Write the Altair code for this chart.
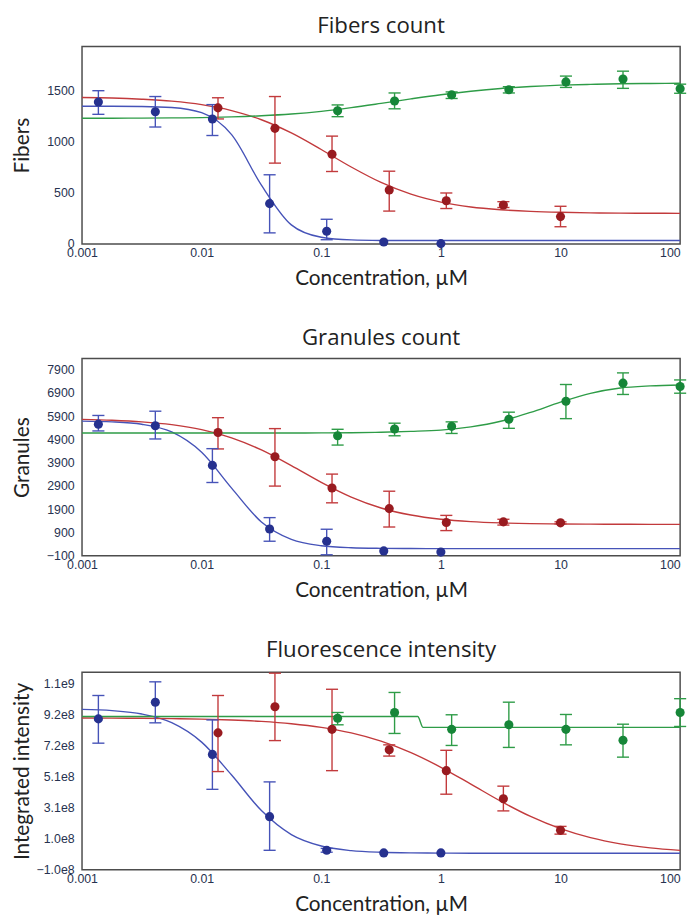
import altair as alt
import pandas as pd

# ---------------- data ----------------
SERIES = ["Compound A", "Compound B", "Compound C"]  # blue, red, green

CONC_A = [0.00137, 0.0041, 0.0123, 0.037, 0.111, 0.333, 1.0]
CONC_B = [0.0137, 0.041, 0.123, 0.37, 1.11, 3.33, 10.0]
CONC_C = [0.137, 0.41, 1.23, 3.7, 11.1, 33.3, 100.0]

# fitted-curve sample positions (µM)
GRID = [0.001, 0.00178, 0.00316, 0.00562, 0.01, 0.0178, 0.0316, 0.0562,
        0.1, 0.178, 0.316, 0.562, 1, 1.78, 3.16, 5.62, 10, 17.8, 31.6, 56.2, 100]

X_TICKS = [0.001, 0.01, 0.1, 1, 10, 100]

# ---- Fibers count ----
FIB_A = [1387, 1292, 1222, 394, 124, 19, 3]
FIB_A_LO = [1267, 1143, 1060, 108, 41, None, None]
FIB_A_HI = [1498, 1441, 1362, 676, 241, None, None]
FIB_B = [1330, 1130, 876, 527, 422, 381, 267]
FIB_B_LO = [1222, 790, 708, 321, 346, 356, 168]
FIB_B_HI = [1429, 1441, 1054, 711, 498, 413, 368]
FIB_C = [1302, 1397, 1457, 1508, 1584, 1613, 1517]
FIB_C_LO = [1244, 1321, 1422, 1476, 1530, 1521, 1473]
FIB_C_HI = [1359, 1476, 1486, 1537, 1641, 1689, 1562]
FIB_FIT_A = [1346, 1346, 1344, 1334, 1283, 1068, 574, 186, 65, 39, 34, 33,
             33, 33, 33, 33, 33, 33, 33, 33, 33]
FIB_FIT_B = [1432, 1427, 1415, 1396, 1362, 1304, 1214, 1085, 923, 752, 601, 486,
             409, 361, 334, 318, 309, 304, 301, 300, 299]
FIB_FIT_C = [1229, 1229, 1230, 1232, 1235, 1242, 1253, 1270, 1296, 1332, 1374, 1418,
             1459, 1493, 1520, 1539, 1552, 1560, 1566, 1569, 1571]

# ---- Granules count ----
GRA_A = [5555, 5488, 3784, 1054, 526, 110, 60]
GRA_A_LO = [5264, 4919, 3049, 526, -56, None, None]
GRA_A_HI = [5929, 6112, 4503, 1540, 1041, None, None]
GRA_B = [5198, 4158, 2812, 1927, 1332, 1357, 1316]
GRA_B_LO = [4491, 2895, 2176, 1137, 983, 1220, 1270]
GRA_B_HI = [5834, 5364, 3410, 2675, 1636, 1469, 1360]
GRA_C = [5056, 5347, 5459, 5763, 6540, 7317, 7176]
GRA_C_LO = [4657, 5056, 5156, 5376, 5792, 6831, 6885]
GRA_C_HI = [5335, 5597, 5654, 6070, 7259, 7758, 7455]
GRA_FIT_A = [5687, 5655, 5550, 5219, 4347, 2807, 1354, 605, 332, 246, 221, 213,
             210, 210, 210, 210, 210, 210, 210, 210, 210]
GRA_FIT_B = [5759, 5722, 5655, 5533, 5320, 4968, 4446, 3774, 3055, 2423, 1954, 1651,
             1471, 1369, 1314, 1284, 1268, 1260, 1255, 1252, 1251]
GRA_FIT_C = [5175, 5175, 5175, 5175, 5175, 5175, 5175, 5175, 5179, 5186, 5210, 5245,
             5300, 5440, 5680, 6060, 6500, 6880, 7110, 7200, 7240]

# ---- Fluorescence intensity ----
FLU_A = [8.93e8, 1.003e9, 6.59e8, 2.49e8, 2.75e7, 1.03e7, 1.03e7]
FLU_A_LO = [7.33e8, 8.67e8, 4.29e8, 2.75e7, 1.5e7, None, None]
FLU_A_HI = [1.047e9, 1.137e9, 8.86e8, 4.78e8, 4.0e7, None, None]
FLU_B = [8.01e8, 9.73e8, 8.24e8, 6.90e8, 5.52e8, 3.67e8, 1.59e8]
FLU_B_LO = [5.46e8, 7.50e8, 5.52e8, 6.48e8, 3.97e8, 2.87e8, 1.34e8]
FLU_B_HI = [1.047e9, 1.194e9, 1.088e9, 7.22e8, 6.86e8, 4.50e8, 1.85e8]
FLU_C = [8.97e8, 9.35e8, 8.24e8, 8.54e8, 8.24e8, 7.52e8, 9.35e8]
FLU_C_LO = [8.54e8, 7.97e8, 7.18e8, 7.05e8, 7.22e8, 6.41e8, 8.43e8]
FLU_C_HI = [9.35e8, 1.067e9, 9.20e8, 1.003e9, 9.22e8, 8.58e8, 1.026e9]
FLU_FIT_A = [9.555e8, 9.474e8, 9.25e8, 8.68e8, 7.40e8, 5.23e8, 2.89e8, 1.31e8,
             5.57e7, 2.55e7, 1.43e7, 1.02e7, 9e6, 8e6, 8e6, 8e6, 8e6, 8e6, 8e6, 8e6, 8e6]
FLU_FIT_B = [8.99e8, 8.98e8, 8.968e8, 8.947e8, 8.912e8, 8.855e8, 8.762e8, 8.612e8,
             8.374e8, 8.007e8, 7.463e8, 6.707e8, 5.742e8, 4.635e8, 3.511e8, 2.504e8,
             1.697e8, 1.105e8, 7.0e7, 4.35e7, 2.67e7]
FLU_FIT_C_X = [0.001, 0.64, 0.71, 100]
FLU_FIT_C = [9.09e8, 9.09e8, 8.37e8, 8.37e8]

FIB_TICKS = [0, 500, 1000, 1500]
GRA_TICKS = [-100, 900, 1900, 2900, 3900, 4900, 5900, 6900, 7900]
FLU_TICKS = [-1.0e8, 1.04e8, 3.08e8, 5.12e8, 7.16e8, 9.20e8, 1.124e9]

# ---------------- styling ----------------
LINE_COLORS = ["#4653b8", "#c23a3c", "#2e9c47"]
DOT_COLORS = ["#26318f", "#991b20", "#168638"]
PANEL_TITLE_FONT = "Open Sans"
AXIS_TITLE_FONT = "Lato"
LABEL_FONT = "Liberation Sans, Arial, sans-serif"
LABEL_COLOR = "#27324f"
TEXT_COLOR = "#222222"
PW, PH = 606, 200


def points_frame(concs, vals, los, his):
    rows = []
    for s, c, v, lo, hi in zip(SERIES, concs, vals, los, his):
        for i in range(len(c)):
            rows.append({"series": s, "conc": c[i], "value": v[i],
                         "lo": lo[i], "hi": hi[i]})
    return pd.DataFrame(rows)


def fit_frame(xs, ys):
    rows = []
    for s, x, y in zip(SERIES, xs, ys):
        for i in range(len(x)):
            rows.append({"series": s, "conc": x[i], "value": y[i]})
    return pd.DataFrame(rows)


def panel(title, ytitle, ydomain, yticks, pts, fits, label_expr=None, fmt=None):
    xscale = alt.Scale(type="log", domain=[0.001, 100], nice=False)
    xaxis = alt.Axis(values=X_TICKS, format="~g", title="Concentration, µM",
                     labelFlush=False, labelOverlap=False, labelPadding=3,
                     titlePadding=9,
                     labelAlign={"condition": {"test": "datum.value >= 100",
                                               "value": "right"},
                                 "value": "center"})
    ykw = dict(title=ytitle, values=yticks, labelOverlap=False, labelPadding=8,
               titleX=-50)
    if label_expr:
        ykw["labelExpr"] = label_expr
    if fmt:
        ykw["format"] = fmt
    yaxis = alt.Axis(**ykw)
    yscale = alt.Scale(domain=ydomain, nice=False, zero=False)

    def X():
        return alt.X("conc:Q", scale=xscale, axis=xaxis)

    def Y(f):
        return alt.Y(f"{f}:Q", scale=yscale, axis=yaxis)

    stroke = alt.Stroke("series:N", scale=alt.Scale(domain=SERIES, range=LINE_COLORS),
                        legend=None)
    fill = alt.Fill("series:N", scale=alt.Scale(domain=SERIES, range=DOT_COLORS),
                    legend=None)

    lines = alt.Chart(fits).mark_line(interpolate="monotone", strokeWidth=1.4,
                                      clip=True).encode(x=X(), y=Y("value"),
                                                        stroke=stroke)
    rules = alt.Chart(pts).mark_rule(strokeWidth=1.4).encode(
        x=X(), y=Y("lo"), y2="hi:Q", stroke=stroke)
    caps_lo = alt.Chart(pts).mark_point(shape="M-1,0L1,0", size=150, strokeWidth=1.4,
                                        filled=False, opacity=1).encode(
        x=X(), y=Y("lo"), stroke=stroke)
    caps_hi = alt.Chart(pts).mark_point(shape="M-1,0L1,0", size=150, strokeWidth=1.4,
                                        filled=False, opacity=1).encode(
        x=X(), y=Y("hi"), stroke=stroke)
    dots = alt.Chart(pts).mark_circle(size=85, opacity=1).encode(
        x=X(), y=Y("value"), fill=fill)

    return alt.layer(lines, rules, caps_lo, caps_hi, dots).properties(
        width=PW, height=PH,
        title=alt.TitleParams(title, font=PANEL_TITLE_FONT, fontSize=22.5,
                              fontWeight="normal", color=TEXT_COLOR, offset=9,
                              anchor="middle"))


p1 = panel("Fibers count", "Fibers", [0, 1930], FIB_TICKS,
           points_frame([CONC_A, CONC_B, CONC_C], [FIB_A, FIB_B, FIB_C],
                        [FIB_A_LO, FIB_B_LO, FIB_C_LO], [FIB_A_HI, FIB_B_HI, FIB_C_HI]),
           fit_frame([GRID, GRID, GRID], [FIB_FIT_A, FIB_FIT_B, FIB_FIT_C]),
           fmt="d")
p2 = panel("Granules count", "Granules", [-100, 8380], GRA_TICKS,
           points_frame([CONC_A, CONC_B, CONC_C], [GRA_A, GRA_B, GRA_C],
                        [GRA_A_LO, GRA_B_LO, GRA_C_LO], [GRA_A_HI, GRA_B_HI, GRA_C_HI]),
           fit_frame([GRID, GRID, GRID], [GRA_FIT_A, GRA_FIT_B, GRA_FIT_C]),
           fmt="d")
p3 = panel("Fluorescence intensity", "Integrated intensity", [-1.0e8, 1.2e9], FLU_TICKS,
           points_frame([CONC_A, CONC_B, CONC_C], [FLU_A, FLU_B, FLU_C],
                        [FLU_A_LO, FLU_B_LO, FLU_C_LO], [FLU_A_HI, FLU_B_HI, FLU_C_HI]),
           fit_frame([GRID, GRID, FLU_FIT_C_X], [FLU_FIT_A, FLU_FIT_B, FLU_FIT_C]),
           label_expr="replace(format(datum.value, '.1e'), '+', '')")

chart = alt.vconcat(p1, p2, p3, spacing=36).properties(
    padding={"left": 3, "top": 0, "right": 0, "bottom": 0}
).configure_view(
    stroke="#4d4d4d", strokeWidth=1.5
).configure_axis(
    domain=False, ticks=False, tickSize=0, grid=False,
    labelFont=LABEL_FONT, labelFontSize=12.5, labelColor=LABEL_COLOR,
    titleFont=AXIS_TITLE_FONT, titleFontSize=21, titleFontWeight="normal",
    titleColor=TEXT_COLOR
)

chart.save("out.html", embed_options={"renderer": "svg", "actions": False})
